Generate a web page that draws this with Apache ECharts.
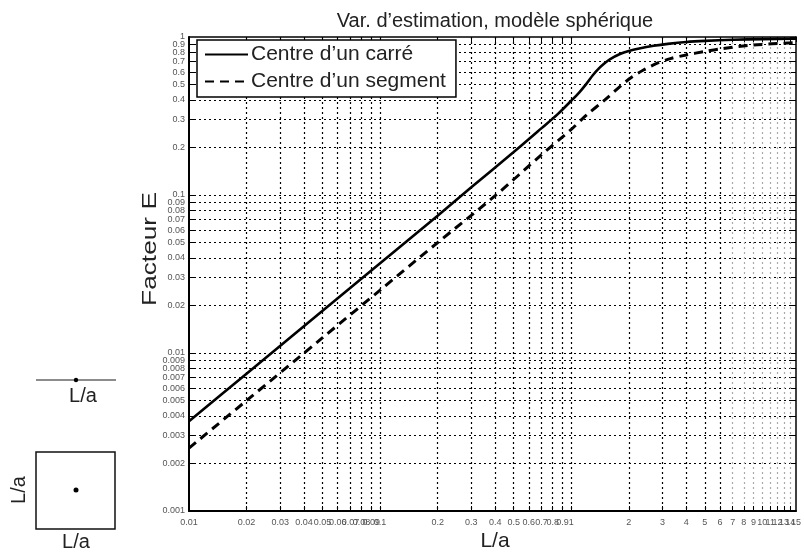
<!DOCTYPE html>
<html><head><meta charset="utf-8">
<script src="https://cdn.jsdelivr.net/npm/echarts@6/dist/echarts.min.js"></script>
<style>html,body{margin:0;padding:0;background:#fff}#c{width:804px;height:558px}</style>
</head><body><div id="c"></div><script>
// ---- data ----
const xTicks = [0.01,0.02,0.03,0.04,0.05,0.06,0.07,0.08,0.09,0.1,0.2,0.3,0.4,0.5,0.6,0.7,0.8,0.9,1,2,3,4,5,6,7,8,9,10,11,12,13,14,15];
const yTicks = [0.001,0.002,0.003,0.004,0.005,0.006,0.007,0.008,0.009,0.01,0.02,0.03,0.04,0.05,0.06,0.07,0.08,0.09,0.1,0.2,0.3,0.4,0.5,0.6,0.7,0.8,0.9,1];
const squareX = [0.01,0.02,0.05,0.1,0.2,0.3,0.5,0.7,0.85,1.0,1.1,1.2,1.3,1.4,1.5,1.6,1.8,2.0,2.3,2.7,3.2,4,5,7,10,15];
const squareE = [0.0037,0.0074,0.0185,0.037,0.074,0.112,0.187,0.265,0.325,0.395,0.445,0.505,0.575,0.635,0.685,0.725,0.78,0.815,0.85,0.88,0.905,0.93,0.945,0.96,0.97,0.975];
const segX = [0.01,0.02,0.05,0.1,0.2,0.4,0.7,1.0,1.2,1.5,2.0,2.4,2.8,3.3,4,5,6,9,15];
const segE = [0.0025,0.005,0.0125,0.025,0.05,0.099,0.18,0.26,0.32,0.40,0.54,0.62,0.68,0.73,0.77,0.81,0.84,0.89,0.92];
const seriesNames = ["Centre d\u2019un carré","Centre d\u2019un segment"];
const titleText = "Var. d\u2019estimation, modèle sphérique";

const FONT = 'Liberation Sans, Arial, sans-serif';
const fmt = v => String(parseFloat(Number(v).toPrecision(4)));
const xGridColors = xTicks.slice(1, -1).map(v => v > 6.5 ? '#aaaaaa' : '#000000');
const X_MIN = 0.01, X_MAX = 15.0005, Y_MIN = 0.001, Y_MAX = 1.00005;
const lblStyle = {fontSize:9, color:'#555', fontFamily:FONT};
function xAxisDef(pos, main){
  return {type:'log', logBase:10, min:X_MIN, max:X_MAX, position:pos,
    axisLine:{show:true, onZero:false, lineStyle:{color:'#000', width: main?2:1.5}},
    axisTick:{show:true, inside:true, length:5, customValues:xTicks, lineStyle:{color:'#000', width:1}},
    axisLabel:Object.assign({show:main, customValues:xTicks, formatter:fmt, margin:7}, lblStyle),
    splitLine: main ? {show:true, showMinLine:false, showMaxLine:false, lineStyle:{color:xGridColors, type:[2,3], width:1.2}} : {show:false},
    minorTick:{show:false}};
}
function yAxisDef(pos, main){
  return {type:'log', logBase:10, min:Y_MIN, max:Y_MAX, position:pos,
    axisLine:{show:true, onZero:false, lineStyle:{color:'#000', width: main?2:1.5}},
    axisTick:{show:true, inside:true, length:5, customValues:yTicks, lineStyle:{color:'#000', width:1}},
    axisLabel:Object.assign({show:main, customValues:yTicks, formatter:fmt, margin:4}, lblStyle),
    splitLine: main ? {show:true, showMinLine:false, showMaxLine:false, lineStyle:{color:'#000', type:[2,3], width:1.2}} : {show:false},
    minorTick:{show:false}};
}
// extra label-only axes for the end labels (auto-hidden on the main axes)
const xEnd = {type:'log', logBase:10, min:X_MIN, max:X_MAX, position:'bottom', offset:0,
  axisLine:{show:false}, axisTick:{show:false}, splitLine:{show:false},
  axisLabel:Object.assign({show:true, showMaxLabel:true, customValues:[xTicks[xTicks.length-1]], formatter:fmt, margin:7}, lblStyle)};
const yEnd = {type:'log', logBase:10, min:Y_MIN, max:Y_MAX, position:'left', offset:0,
  axisLine:{show:false}, axisTick:{show:false}, splitLine:{show:false},
  axisLabel:Object.assign({show:true, showMaxLabel:true, customValues:[yTicks[yTicks.length-1]], formatter:fmt, margin:4}, lblStyle)};
const chart = echarts.init(document.getElementById('c'), null, {renderer:'canvas'});
chart.setOption({
  backgroundColor:'#fff',
  animation:false,
  title:{text:titleText, left:490, textAlign:'center', top:6, textStyle:{fontSize:20, fontWeight:'normal', color:'#222', fontFamily:FONT}},
  grid:{left:189, right:5, top:37, bottom:47, containLabel:false},
  legend:{show:true, orient:'vertical', left:197, top:40, backgroundColor:'#fff', borderColor:'#000', borderWidth:1.5, borderRadius:0,
    padding:[4,10,5,7], itemGap:6, itemWidth:43, itemHeight:14, itemStyle:{opacity:0},
    textStyle:{fontSize:21, color:'#222', fontFamily:FONT, padding:[0,0,0,-2]}, data:seriesNames},
  xAxis:[xAxisDef('bottom', true), xAxisDef('top', false), xEnd],
  yAxis:[yAxisDef('left', true), yAxisDef('right', false), yEnd],
  series:[
    {name:seriesNames[0], type:'line', smooth:0.3, symbol:'none', data:squareX.map((x,i)=>[x,squareE[i]]),
      lineStyle:{color:'#000', width:2.6}, itemStyle:{color:'#000'}, z:5},
    {name:seriesNames[1], type:'line', smooth:0.3, symbol:'none', data:segX.map((x,i)=>[x,segE[i]]),
      lineStyle:{color:'#000', width:3, type:[9,6]}, itemStyle:{color:'#000'}, z:5}
  ],
  graphic:[
    {type:'text', x:495, y:541, style:{text:'L/a', fontSize:21, fill:'#222', fontFamily:FONT, align:'center', verticalAlign:'middle'}},
    {type:'text', x:150, y:249, rotation:Math.PI/2, scaleX:1.25, style:{text:'Facteur E', fontSize:21, fill:'#222', fontFamily:FONT, align:'center', verticalAlign:'middle'}},
    {type:'line', shape:{x1:36, y1:380, x2:116, y2:380}, style:{stroke:'#666', lineWidth:1.5}},
    {type:'circle', shape:{cx:76, cy:380, r:2.2}, style:{fill:'#000'}},
    {type:'text', x:83, y:396, style:{text:'L/a', fontSize:20, fill:'#222', fontFamily:FONT, align:'center', verticalAlign:'middle'}},
    {type:'rect', shape:{x:36, y:452, width:79, height:77}, style:{fill:'none', stroke:'#111', lineWidth:1.5}},
    {type:'circle', shape:{cx:76, cy:490, r:2.5}, style:{fill:'#000'}},
    {type:'text', x:19, y:490, rotation:Math.PI/2, style:{text:'L/a', fontSize:20, fill:'#222', fontFamily:FONT, align:'center', verticalAlign:'middle'}},
    {type:'text', x:76, y:542, style:{text:'L/a', fontSize:20, fill:'#222', fontFamily:FONT, align:'center', verticalAlign:'middle'}}
  ]
});
</script></body></html>
